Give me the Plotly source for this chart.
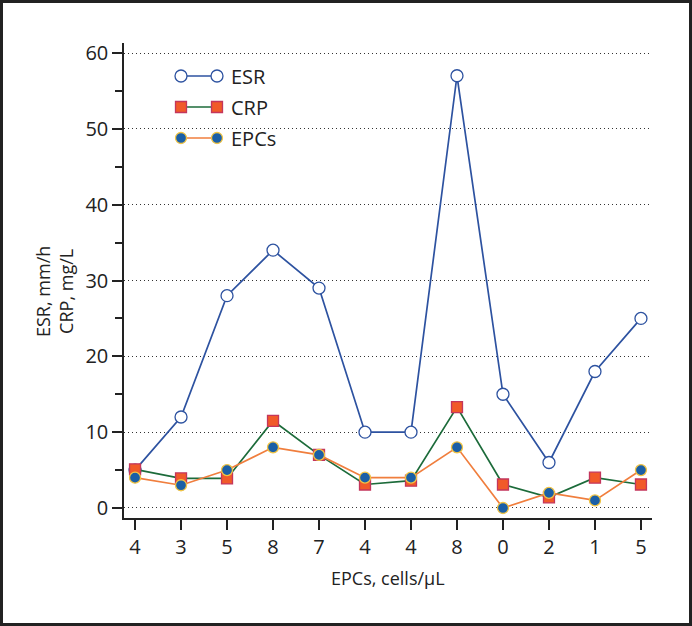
import plotly.graph_objects as go

# ---- data ----
epcs_labels = ["4", "3", "5", "8", "7", "4", "4", "8", "0", "2", "1", "5"]
esr = [5, 12, 28, 34, 29, 10, 10, 57, 15, 6, 18, 25]
crp = [5.1, 3.9, 3.9, 11.5, 7, 3.1, 3.6, 13.3, 3.1, 1.4, 4.0, 3.1]
epcs = [4, 3, 5, 8, 7, 4, 4, 8, 0, 2, 1, 5]
series_names = ["ESR", "CRP", "EPCs"]
y_ticks = [0, 10, 20, 30, 40, 50, 60]

# ---- layout geometry (pixels) ----
W, H = 692, 626
L, R, T, B = 124, 40, 43, 108
PW, PH = W - L - R, H - T - B

def px(x):
    return (x - L) / PW

def py(y):
    return (H - B - y) / PH

FONT = "Open Sans"
DARK = "#222222"

esr_col = "#2d52a0"
crp_line = "#1c6b3a"
crp_fill = "#f15a29"
crp_edge = "#c4365c"
epc_line = "#f07e3d"
epc_fill = "#1b5fa6"
epc_edge = "#f2c443"

styles = {
    "ESR": dict(line=dict(color=esr_col, width=1.7),
                marker=dict(symbol="circle", size=12, color="white",
                            line=dict(color=esr_col, width=1.3))),
    "CRP": dict(line=dict(color=crp_line, width=1.7),
                marker=dict(symbol="square", size=11, color=crp_fill,
                            line=dict(color=crp_edge, width=1.3))),
    "EPCs": dict(line=dict(color=epc_line, width=1.7),
                 marker=dict(symbol="circle", size=11, color=epc_fill,
                             line=dict(color=epc_edge, width=1.3))),
}

x_idx = list(range(len(epcs_labels)))
fig = go.Figure()
for name, vals in zip(series_names, [esr, crp, epcs]):
    fig.add_trace(go.Scatter(x=x_idx, y=vals, mode="lines+markers", name=name,
                             showlegend=False, cliponaxis=False, **styles[name]))

# manual legend (pixel axes overlay)
leg_y = [76, 107, 138]
for name, ly in zip(series_names, leg_y):
    fig.add_trace(go.Scatter(x=[181, 217], y=[ly, ly], mode="lines+markers",
                             xaxis="x2", yaxis="y2", showlegend=False,
                             hoverinfo="skip", cliponaxis=False, **styles[name]))

annotations = []
for name, ly in zip(series_names, leg_y):
    annotations.append(dict(x=px(229), y=py(ly), xref="paper", yref="paper",
                            text=name, showarrow=False, xanchor="left",
                            yanchor="middle", font=dict(family=FONT, size=20, color=DARK)))
annotations.append(dict(x=px(54), y=py(292), xref="paper", yref="paper",
                        text="ESR, mm/h<br>CRP, mg/L", showarrow=False, textangle=-90,
                        xanchor="center", yanchor="middle",
                        font=dict(family=FONT, size=18, color=DARK)))
annotations.append(dict(x=px(388), y=py(578), xref="paper", yref="paper",
                        text="EPCs, cells/μL", showarrow=False,
                        xanchor="center", yanchor="middle",
                        font=dict(family=FONT, size=18, color=DARK)))

shapes = [
    dict(type="rect", xref="paper", yref="paper", x0=px(150), x1=px(298),
         y0=py(155), y1=py(62), fillcolor="white", line=dict(width=0), layer="between"),
    dict(type="rect", xref="paper", yref="paper", x0=px(1.5), x1=px(690.5),
         y0=py(624.5), y1=py(1.5), line=dict(color=DARK, width=3), layer="above"),
]

fig.update_layout(
    width=W, height=H,
    margin=dict(l=L, r=R, t=T, b=B),
    paper_bgcolor="white", plot_bgcolor="white",
    font=dict(family=FONT, size=18, color=DARK),
    showlegend=False,
    xaxis=dict(range=[-0.24, 11.24], tickmode="array", tickvals=x_idx,
               ticktext=epcs_labels, showgrid=False, zeroline=False,
               showline=True, linecolor=DARK, linewidth=1.5,
               ticks="outside", ticklen=10, tickwidth=1.5, tickcolor=DARK,
               tickfont=dict(family=FONT, size=20, color=DARK)),
    yaxis=dict(range=[-1.32, 61.32], tickmode="array", tickvals=y_ticks,
               showgrid=True, gridcolor="#333333", gridwidth=1, griddash="1px,3px",
               zeroline=False, showline=True, linecolor=DARK, linewidth=1.5,
               ticks="outside", ticklen=10, tickwidth=1.5, tickcolor=DARK,
               tickfont=dict(family=FONT, size=20, color=DARK),
               minor=dict(tickmode="array", tickvals=[5, 15, 25, 35, 45, 55],
                          ticks="outside", ticklen=7, tickwidth=1.5,
                          tickcolor=DARK, showgrid=False)),
    xaxis2=dict(range=[L, W - R], overlaying="x", visible=False, fixedrange=True),
    yaxis2=dict(range=[H - B, T], overlaying="y", visible=False, fixedrange=True),
    annotations=annotations,
    shapes=shapes,
)

fig.write_html("out.html", config={"displayModeBar": False},
               post_script="document.body.style.margin='0';document.body.style.overflow='hidden';")
